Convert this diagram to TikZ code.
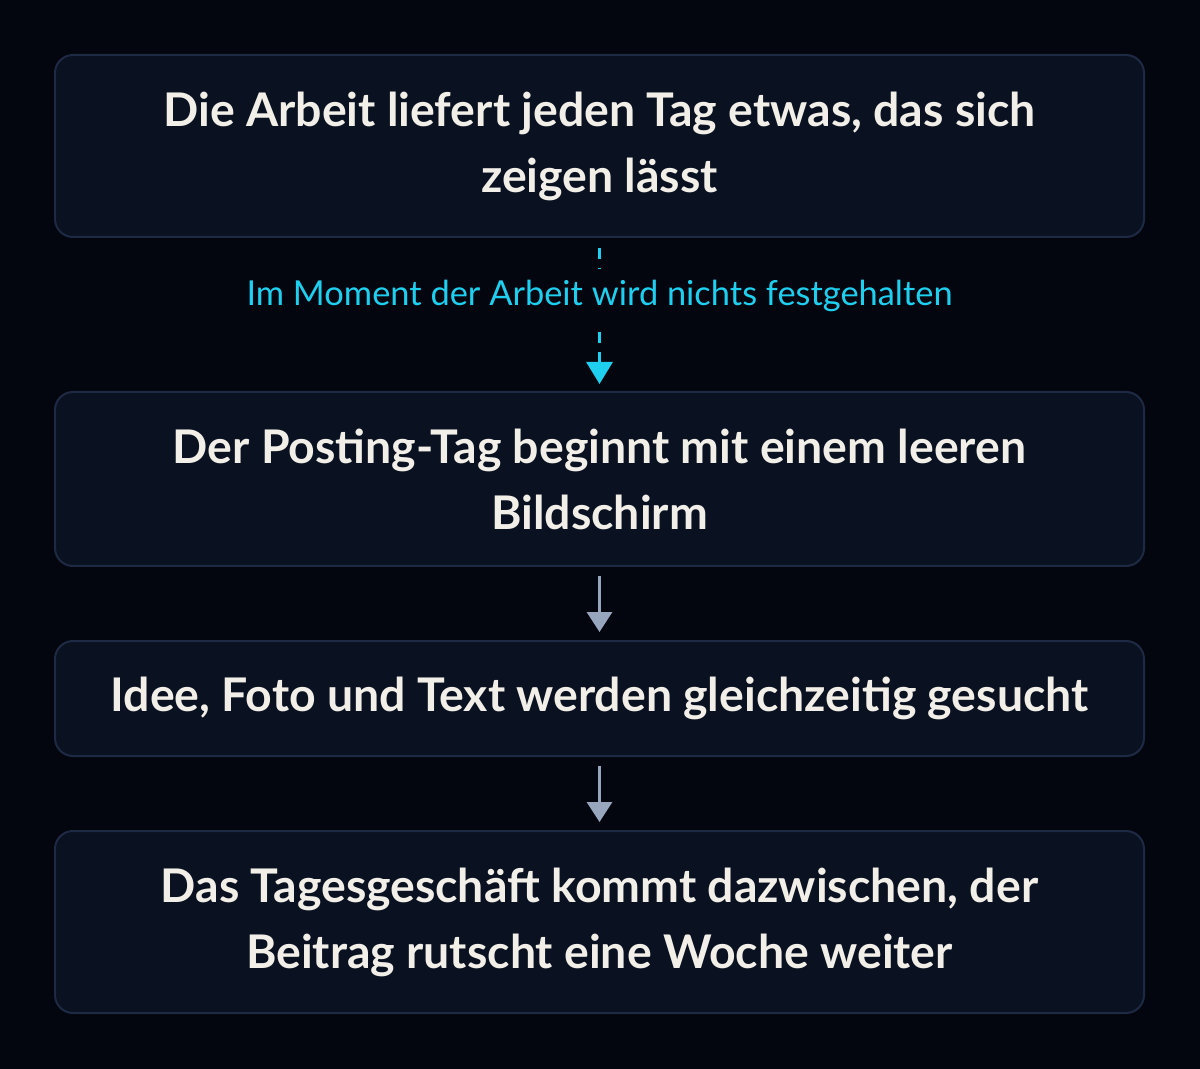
\documentclass[tikz,border=0pt]{standalone}
\usepackage{fontspec}
\setmainfont{Lato}
\usepackage{tikz}
\usetikzlibrary{arrows.meta}
\definecolor{pagebg}{HTML}{03060F}
\definecolor{boxfill}{HTML}{0A1120}
\definecolor{boxline}{HTML}{1E2A44}
\definecolor{boxtext}{HTML}{F2EFE9}
\definecolor{gapcyan}{HTML}{1ECFF0}
\definecolor{flowgray}{HTML}{97A6BC}
\tikzset{step box/.style={draw=boxline, fill=boxfill, line width=1pt, rounded corners=9pt,
  minimum width=544.5pt, align=center, text=boxtext, font=\fontsize{23.2}{33}\selectfont\bfseries}}
\tikzset{flow/.style={draw=flowgray, line width=1.6pt, -{Triangle[width=12.5pt,length=10pt]},
  shorten <=4.5pt, shorten >=4pt}}
\tikzset{gap flow/.style={draw=gapcyan, line width=1.5pt, dash pattern=on 5.5pt off 4.5pt}}
\tikzset{gap note/.style={text=gapcyan, inner xsep=3pt, inner ysep=5.5pt, font=\fontsize{17.2}{20}\selectfont}}

\begin{document}
\begin{tikzpicture}[x=0.5pt, y=-0.5pt]
  \fill[pagebg] (0, 0) rectangle (1200, 1069);
  \useasboundingbox (0, 0) rectangle (1200, 1069);

  \node[step box, minimum height=91pt] at (599.5, 146) (work) {Die Arbeit liefert jeden Tag etwas, das sich\\zeigen lässt};
  \node[step box, minimum height=87pt] at (599.5, 479) (blank) {Der Posting-Tag beginnt mit einem leeren\\Bildschirm};
  \node[step box, minimum height=57.5pt] at (599.5, 698.5) (search) {Idee, Foto und Text werden gleichzeitig gesucht};
  \node[step box, minimum height=91pt] at (599.5, 922) (slip) {Das Tagesgeschäft kommt dazwischen, der\\Beitrag rutscht eine Woche weiter};

  % nothing is kept while working
  \node[gap note, anchor=base] at (599.5, 306) (note) {Im Moment der Arbeit wird nichts festgehalten};
  \draw[gap flow, shorten <=5pt] (work.south) -- (note.north);
  \draw[gap flow, dash phase=6pt, shorten >=3.5pt, -{Triangle[width=13pt,length=11pt]}] (note.south) -- (blank.north);

  \draw[flow] (blank) -- (search);
  \draw[flow] (search) -- (slip);
\end{tikzpicture}
\end{document}
